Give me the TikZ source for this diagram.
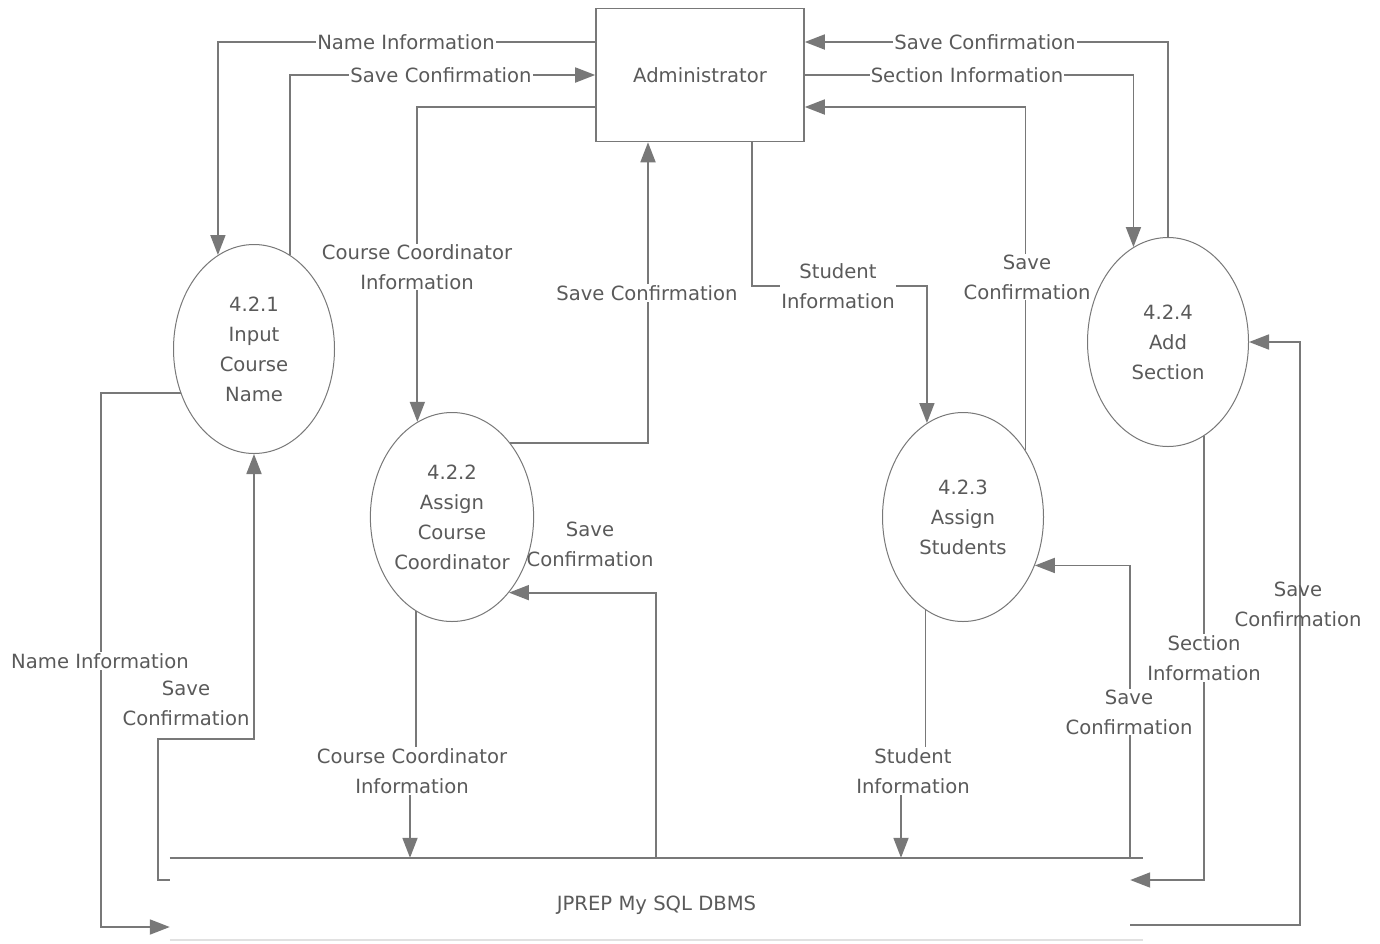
\documentclass[tikz,border=0pt]{standalone}
\usepackage{fontspec}
\setmainfont{DejaVu Sans}
\usetikzlibrary{arrows.meta,shapes.geometric}
\definecolor{linegray}{RGB}{120,120,120}
\definecolor{textgray}{RGB}{90,90,90}
\definecolor{storegray}{RGB}{225,225,225}
\tikzset{
  every node/.style={font=\fontsize{19.6}{30}\selectfont, text=textgray},
  proc/.style={ellipse, draw=linegray, line width=1pt, minimum width=161pt, minimum height=209pt, align=center, inner sep=0pt},
  entity/.style={rectangle, draw=linegray, line width=1.6pt, minimum width=208pt, minimum height=133pt},
  store/.style={rectangle, minimum width=973pt, minimum height=82pt, inner sep=0pt},
  flow/.style={draw=linegray, line width=1.8pt, -{Triangle[length=20pt,width=15pt]}},
  plain/.style={draw=linegray, line width=1.8pt},
  lbl/.style={fill=white, align=center, inner sep=1pt},
  lblnofill/.style={align=center, inner sep=1pt}
}
\begin{document}
\begin{tikzpicture}[x=1pt,y=-1pt]
\useasboundingbox (0,0) rectangle (1380,943);
\fill[white] (0,0) rectangle (1380,943);

% nodes
\node[entity] (adm) at (700,75) {Administrator};
\node[proc] (p1) at (254,349) {4.2.1\\Input\\Course\\Name};
\node[proc] (p2) at (452,517) {4.2.2\\Assign\\Course\\Coordinator};
\node[proc] (p3) at (963,517) {4.2.3\\Assign\\Students};
\node[proc] (p4) at (1168,342) {4.2.4\\Add\\Section};
\node[store] (db) at (656.5,899) {\raisebox{-6pt}[\height][\depth]{JPREP My SQL DBMS}};
\draw[plain] (db.north west) -- (db.north east);
\draw[draw=storegray, line width=1.8pt] (db.south west) -- (db.south east);

% top-left flows
\draw[flow] (adm.west |- 0,42) -| (p1.111);
\draw[flow] (p1.69) |- (adm.west |- 0,75);
\draw[flow] (adm.west |- 0,107) -| (p2.110.5);
\draw[flow] (p2.52.8) -| (adm.south -| 648,0);
% top-right flows
\draw[flow] (adm.south -| 752,0) |- (p3.111.2 |- 0,286) -- (p3.111.2);
\draw[flow] (p3.47.8) |- (adm.east |- 0,107);
\draw[flow] (p4.north) |- (adm.east |- 0,42);
\draw[flow] (adm.east |- 0,75) -| (p4.110.5);

% bottom flows
\draw[flow] (p1.211.9) -| (101,927) -- (db.west |- 0,927);
\draw[flow] (db.west |- 0,880) -- (158,880) |- (254,739) -- (p1.south);
\draw[flow] (p2.249.5) -- (p2.249.5 |- 0,771) -- (410,771) -- (db.north -| 410,0);
\draw[flow] (db.north -| 656,0) |- (p2.307.2);
\draw[flow] (p3.248.8) -- (p3.248.8 |- 0,771) -- (901,771) -- (db.north -| 901,0);
\draw[flow] (db.north -| 1130,0) |- (p3.326.6);
\draw[flow] (p4.291.9) |- ([xshift=-13pt]db.east |- 0,880);
\draw[flow] ([xshift=-13pt]db.east |- 0,925) -| (1300,342) -- (p4.east);

% labels
\node[lbl] (l1) at (406,42) {Name Information};
\node[lbl] (l2) at (441,75) {Save Confirmation};
\node[lbl, inner sep=0pt] (l3) at (417,267) {Course Coordinator\\Information};
\node[lbl] (l4) at (647,293) {Save Confirmation};
\node[lbl] (l5) at (838,286) {Student\\Information};
\node[lbl] (l6) at (1027,277) {Save\\Confirmation};
\node[lbl] (l7) at (985,42) {Save Confirmation};
\node[lbl] (l8) at (967,75) {Section Information};
\node[lbl] (l9) at (100,661) {Name Information};
\node[lbl] (l10) at (186,703) {Save\\Confirmation};
\node[lbl] (l11) at (412,771) {Course Coordinator\\Information};
\node[lblnofill] (l12) at (590,544) {Save\\Confirmation};
\node[lbl] (l13) at (913,771) {Student\\Information};
\node[lbl] (l14) at (1129,712) {Save\\Confirmation};
\node[lbl] (l15) at (1204,658) {Section\\Information};
\node[lblnofill] (l16) at (1298,604) {Save\\Confirmation};
\end{tikzpicture}
\end{document}
